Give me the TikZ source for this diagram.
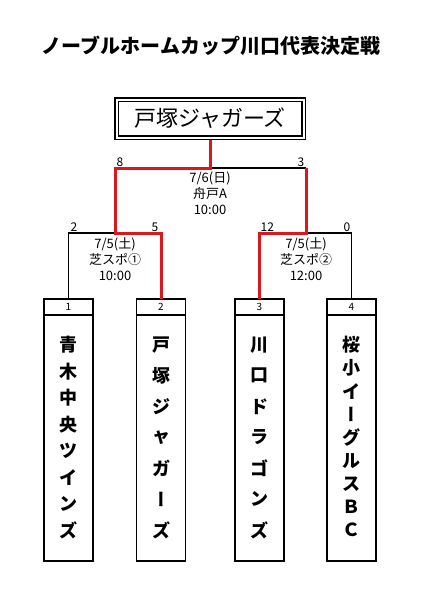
\documentclass[tikz,border=0pt]{standalone}
\usepackage{fontspec}
\setmainfont{Noto Sans CJK JP}
\newfontfamily\vertjp[RawFeature=+vert]{Noto Sans CJK JP}
\usetikzlibrary{positioning}
\definecolor{winred}{RGB}{218,24,30}

\tikzset{
  numbox/.style={draw, line width=1.5pt, minimum width=49pt, minimum height=16pt,
    inner sep=0pt, outer sep=0pt, font=\fontsize{10}{10}\selectfont},
  namebox/.style={draw, line width=1.5pt, minimum width=49pt, minimum height=246pt,
    inner sep=0pt, outer sep=0pt},
  namech/.style={font=\fontsize{18}{18}\selectfont\bfseries, inner sep=0pt},
  score/.style={font=\fontsize{12}{12}\selectfont, inner sep=1.5pt},
  info/.style={font=\fontsize{13}{16}\selectfont, align=center, inner sep=0pt},
  lostline/.style={line width=1.5pt},
  wonline/.style={line width=3pt, draw=winred},
  champ/.style={draw, double, line width=1.5pt, double distance=2pt,
    minimum width=187pt, minimum height=38pt, outer sep=2.5pt,
    font=\fontsize{22}{22}\selectfont},
}

% team name, written top to bottom inside a box
\newcommand\teamname[3]{%
  \foreach \ch [count=\k] in {#3}
    \node[namech] (#1c\k) at ([yshift={-(30+(\k-1)*185/(#2-1))}]#1.north) {\ch};}

\begin{document}
\begin{tikzpicture}[x=1pt, y=-1pt]
\useasboundingbox (0,0) rectangle (424,616);

\node[font=\fontsize{20}{20}\selectfont\bfseries] (title) at (211,46) {ノーブルホームカップ川口代表決定戦};

% teams
\node[numbox] (n1) at (68.5,307) {1};
\node[numbox] (n2) at (161,307) {2};
\node[numbox] (n3) at (259.5,307) {3};
\node[numbox] (n4) at (351.5,307) {4};
\node[namebox, below=0pt of n1] (t1) {};
\node[namebox, below=0pt of n2] (t2) {};
\node[namebox, below=0pt of n3] (t3) {};
\node[namebox, below=0pt of n4] (t4) {};
\teamname{t1}{8}{青,木,中,央,ツ,イ,ン,ズ}
\teamname{t2}{7}{戸,塚,ジ,ャ,ガ,{\vertjp ー},ズ}
\teamname{t3}{7}{川,口,ド,ラ,ゴ,ン,ズ}
\teamname{t4}{9}{桜,小,イ,{\vertjp ー},グ,ル,ス,Ｂ,Ｃ}

% bracket corners
\coordinate (s1) at (115,233);
\coordinate (s2) at (306,233);
\coordinate (f) at (210,168);

\node[champ] (champ) at (210,118.5) {戸塚ジャガーズ};

\draw[lostline] (n1.north) |- (s1);
\draw[lostline] (n4.north) |- (s2);
\draw[lostline] (f) -- (f -| s2);
\draw[wonline] (n2.north) |- (s1) |- (f) -- (champ.south);
\draw[wonline] (n3.north) |- (s2) -- (s2 |- f);

% scores
\node[score, above right] (sc1) at (69,233) {2};
\node[score, above left] (sc2) at (160,233) {5};
\node[score, above right] (sc3) at (259,233) {12};
\node[score, above left] (sc4) at (352,233) {0};
\node[score, above right] (sc5) at (s1 |- f) {8};
\node[score, above left] (sc6) at (s2 |- f) {3};

% match info
\node[info, below=4pt of s1] (i1) {7/5(土)\\芝スポ①\\10:00};
\node[info, below=4pt of s2] (i2) {7/5(土)\\芝スポ②\\12:00};
\node[info, below=4pt of f] (i3) {7/6(日)\\舟戸A\\10:00};
\end{tikzpicture}
\end{document}
